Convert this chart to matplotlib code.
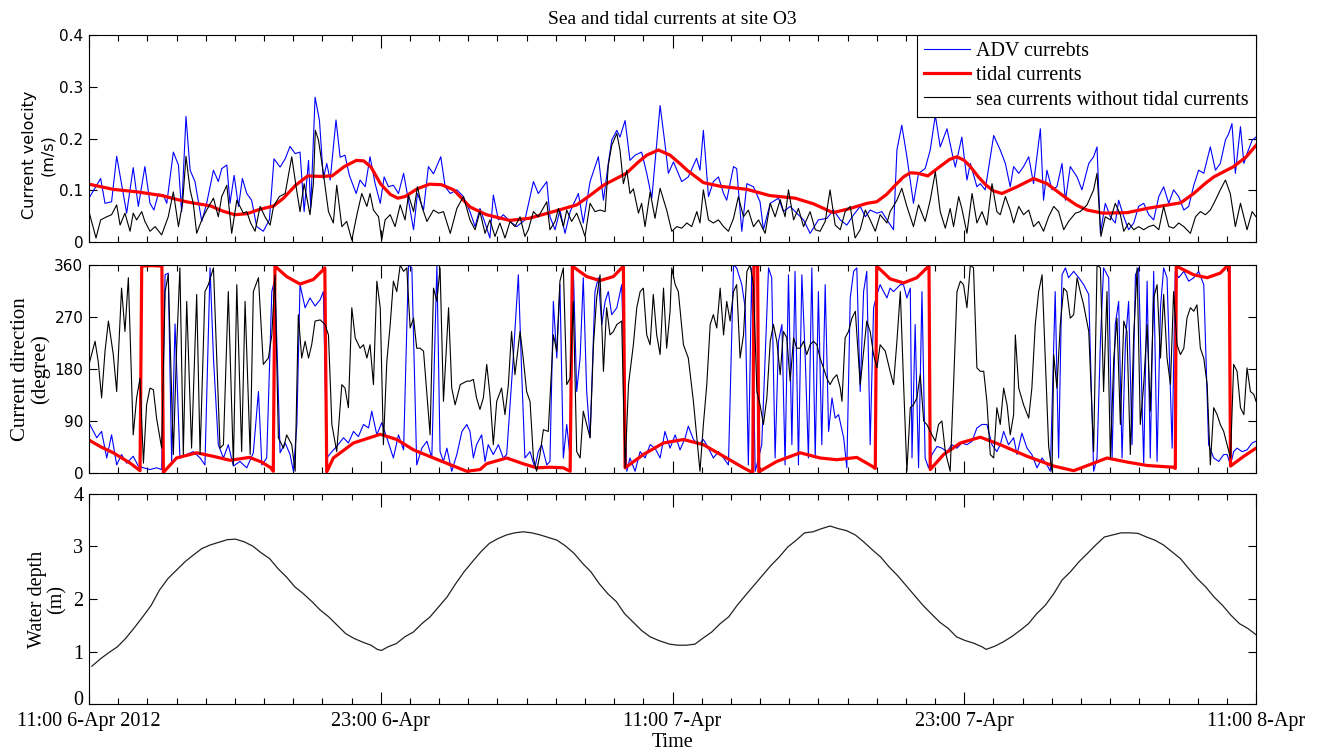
import matplotlib
matplotlib.use("Agg")
import matplotlib.pyplot as plt
from matplotlib.ticker import FixedLocator, MultipleLocator
from matplotlib.transforms import ScaledTranslation

SERIF = "Liberation Serif"
SANS = "DejaVu Sans"

# time axis: hours after 11:00 6-Apr-2012
time_ticks = [0, 12, 24, 36, 48]
time_labels = ["11:00 6-Apr 2012", "23:00 6-Apr", "11:00 7-Apr", "23:00 7-Apr", "11:00 8-Apr"]

# (hour, m/s) ADV measured speed
adv_speed = [
    (0.00, 0.085), (0.48, 0.123), (0.66, 0.075), (0.93, 0.078), (1.14, 0.166), (1.41, 0.094), (1.55, 0.056), (1.82, 0.144), (2.03, 0.069), (2.30, 0.146),
    (2.51, 0.075), (2.67, 0.062), (2.85, 0.093), (3.06, 0.091), (3.20, 0.075), (3.47, 0.174), (3.68, 0.149), (3.81, 0.059), (3.99, 0.243), (4.16, 0.139),
    (4.36, 0.117), (4.64, 0.040), (4.84, 0.075), (5.12, 0.139), (5.32, 0.117), (5.46, 0.142), (5.67, 0.149), (5.80, 0.075), (5.97, 0.129), (6.15, 0.069),
    (6.31, 0.123), (6.49, 0.094), (6.69, 0.081), (6.90, 0.030), (7.17, 0.021), (7.42, 0.043), (7.61, 0.161), (7.86, 0.145), (8.07, 0.161), (8.27, 0.185),
    (8.48, 0.171), (8.68, 0.174), (8.85, 0.059), (9.03, 0.158), (9.12, 0.067), (9.30, 0.280), (9.48, 0.235), (9.64, 0.123), (9.78, 0.152), (9.92, 0.120),
    (10.16, 0.236), (10.33, 0.164), (10.53, 0.168), (10.71, 0.129), (10.99, 0.094), (11.15, 0.120), (11.36, 0.107), (11.56, 0.165), (11.77, 0.113), (11.98, 0.075),
    (12.14, 0.126), (12.32, 0.107), (12.52, 0.110), (12.73, 0.094), (12.94, 0.133), (13.14, 0.081), (13.35, 0.024), (13.51, 0.094), (13.76, 0.062), (13.96, 0.146),
    (14.17, 0.132), (14.47, 0.165), (14.65, 0.107), (14.86, 0.094), (15.13, 0.101), (15.40, 0.088),
    (15.67, 0.059), (15.88, 0.030), (16.08, 0.065), (16.29, 0.037), (16.49, 0.008), (16.63, 0.091), (16.84, 0.043), (17.04, 0.053), (17.32, 0.040), (17.59, 0.030),
    (17.93, 0.043), (18.28, 0.117), (18.48, 0.094), (18.83, 0.117), (18.96, 0.049), (19.17, 0.024), (19.37, 0.062), (19.58, 0.017), (19.79, 0.059), (20.13, 0.094),
    (20.33, 0.037), (20.61, 0.117), (20.95, 0.165), (21.16, 0.081), (21.36, 0.152), (21.50, 0.197), (21.71, 0.216), (21.84, 0.203), (22.05, 0.235), (22.25, 0.158),
    (22.46, 0.168), (22.73, 0.174), (22.94, 0.133), (23.15, 0.085), (23.49, 0.264), (23.69, 0.190), (23.83, 0.133), (24.04, 0.155), (24.38, 0.117), (24.65, 0.126),
    (24.99, 0.162), (25.13, 0.139), (25.27, 0.216), (25.48, 0.088), (25.68, 0.117), (25.89, 0.126), (26.10, 0.094), (26.23, 0.081), (26.51, 0.146), (26.64, 0.142),
    (26.85, 0.021), (27.06, 0.113), (27.33, 0.107), (27.60, 0.078), (27.74, 0.024), (28.02, 0.075), (28.36, 0.085), (28.56, 0.059), (28.84, 0.069), (29.11, 0.056),
    (29.39, 0.043), (29.66, 0.017), (30.00, 0.043), (30.35, 0.046), (30.62, 0.062), (30.90, 0.043), (31.17, 0.033), (31.45, 0.053),
    (31.72, 0.069), (31.93, 0.049), (32.13, 0.062), (32.41, 0.056), (32.61, 0.059), (32.82, 0.043), (33.09, 0.024), (33.23, 0.178), (33.43, 0.226), (33.64, 0.165),
    (33.91, 0.075), (34.12, 0.133), (34.39, 0.142), (34.60, 0.178), (34.81, 0.245), (35.01, 0.184), (35.29, 0.219), (35.49, 0.174), (35.63, 0.145), (35.90, 0.203),
    (36.11, 0.120), (36.25, 0.152), (36.52, 0.107), (36.66, 0.113), (36.86, 0.101), (37.21, 0.206), (37.48, 0.178), (37.69, 0.152), (37.89, 0.107), (38.03, 0.146),
    (38.24, 0.133), (38.44, 0.146), (38.65, 0.165), (38.85, 0.113), (39.13, 0.219), (39.26, 0.081), (39.40, 0.139), (39.61, 0.101), (39.81, 0.107), (40.02, 0.152),
    (40.16, 0.081), (40.36, 0.146), (40.64, 0.126), (40.84, 0.101), (41.12, 0.152), (41.32, 0.165), (41.46, 0.184), (41.60, 0.017), (41.80, 0.075), (42.01, 0.049),
    (42.21, 0.037), (42.35, 0.081), (42.56, 0.049), (42.76, 0.024), (42.97, 0.037), (43.17, 0.069), (43.38, 0.075), (43.59, 0.053), (43.79, 0.043), (44.00, 0.088),
    (44.20, 0.107), (44.41, 0.075), (44.61, 0.101), (44.82, 0.088), (45.03, 0.062), (45.23, 0.069), (45.44, 0.110), (45.64, 0.139), (45.85, 0.133), (46.12, 0.184),
    (46.33, 0.139), (46.53, 0.152), (46.74, 0.197), (46.88, 0.210), (47.01, 0.229), (47.15, 0.133), (47.36, 0.223), (47.50, 0.152), (47.63, 0.171), (47.84, 0.197),
    (48.00, 0.203),
]

# (hour, m/s) harmonic tidal current speed
tide_speed = [
    (0.0, 0.112), (1.0, 0.102), (2.0, 0.097), (3.0, 0.090), (4.0, 0.078), (5.0, 0.070), (5.5, 0.060), (6.0, 0.053), (6.5, 0.055), (7.0, 0.063),
    (7.6, 0.070), (8.0, 0.085), (8.5, 0.110), (9.0, 0.128), (9.5, 0.127), (10.0, 0.128), (10.5, 0.146), (11.0, 0.158), (11.3, 0.157), (11.6, 0.145),
    (12.0, 0.112), (12.4, 0.092), (12.7, 0.085), (13.0, 0.088), (13.5, 0.103), (14.0, 0.112), (14.5, 0.111), (15.0, 0.101), (15.67, 0.068), (16.35, 0.053),
    (17.3, 0.042), (18.1, 0.046), (19.1, 0.059), (20.06, 0.072), (20.6, 0.090), (21.16, 0.110), (22.1, 0.133), (22.6, 0.155), (22.94, 0.168), (23.42, 0.178),
    (23.9, 0.168), (24.3, 0.152), (24.6, 0.139), (25.27, 0.115), (25.96, 0.108), (27.06, 0.102), (28.0, 0.090), (29.04, 0.085), (29.8, 0.074), (30.6, 0.057),
    (31.3, 0.065), (32.0, 0.075), (32.4, 0.078), (32.8, 0.092), (33.1, 0.107), (33.5, 0.126), (33.78, 0.134), (34.1, 0.133), (34.5, 0.128), (35.0, 0.146),
    (35.4, 0.160), (35.7, 0.165), (36.0, 0.158), (36.25, 0.146), (36.6, 0.125), (36.9, 0.110), (37.2, 0.099), (37.55, 0.094), (38.17, 0.107), (38.85, 0.123),
    (39.4, 0.113), (39.8, 0.099), (40.2, 0.085), (40.6, 0.072), (41.05, 0.062), (41.7, 0.056), (42.7, 0.057), (43.5, 0.065), (44.9, 0.076), (45.44, 0.094),
    (45.9, 0.113), (46.26, 0.126), (47.08, 0.146), (47.6, 0.165), (48.0, 0.187),
]

# (hour, m/s) residual (sea) current speed
sea_speed = [
    (0.00, 0.059), (0.29, 0.008), (0.48, 0.043), (0.73, 0.049), (0.93, 0.053), (1.14, 0.072), (1.28, 0.033), (1.48, 0.056), (1.69, 0.021), (1.82, 0.056),
    (1.96, 0.043), (2.17, 0.059), (2.30, 0.040), (2.51, 0.021), (2.72, 0.030), (2.99, 0.014), (3.26, 0.049), (3.47, 0.097), (3.68, 0.030), (3.85, 0.075),
    (3.99, 0.166), (4.16, 0.101), (4.29, 0.075), (4.43, 0.017), (4.64, 0.043), (4.84, 0.062), (5.12, 0.085), (5.32, 0.049), (5.46, 0.088), (5.67, 0.110),
    (5.87, 0.017), (6.08, 0.081), (6.35, 0.056), (6.49, 0.059), (6.65, 0.037), (6.83, 0.021), (7.04, 0.069), (7.24, 0.049), (7.45, 0.033), (7.59, 0.069),
    (7.83, 0.088), (8.07, 0.094), (8.34, 0.165), (8.52, 0.107), (8.68, 0.059), (8.85, 0.113), (9.09, 0.053), (9.23, 0.113), (9.31, 0.216), (9.44, 0.197),
    (9.64, 0.133), (9.85, 0.059), (10.05, 0.037), (10.19, 0.110), (10.40, 0.030), (10.60, 0.040), (10.81, 0.004), (11.02, 0.053), (11.22, 0.094), (11.43, 0.069),
    (11.56, 0.094), (11.70, 0.062), (11.91, 0.049), (12.04, 0.004), (12.18, 0.043), (12.39, 0.053), (12.59, 0.030), (12.80, 0.072), (13.00, 0.043), (13.14, 0.091),
    (13.35, 0.059), (13.51, 0.107), (13.69, 0.069), (13.90, 0.040), (14.17, 0.062), (14.38, 0.056), (14.58, 0.059), (14.86, 0.017), (15.13, 0.065), (15.40, 0.088),
    (15.67, 0.043), (15.88, 0.024), (16.08, 0.059), (16.29, 0.017), (16.49, 0.043), (16.70, 0.011), (16.90, 0.037), (17.11, 0.008), (17.32, 0.040), (17.52, 0.030),
    (17.73, 0.049), (17.93, 0.011), (18.07, 0.024), (18.28, 0.059), (18.48, 0.049), (18.83, 0.078), (18.96, 0.024), (19.17, 0.040), (19.31, 0.065), (19.51, 0.030),
    (19.65, 0.062), (19.85, 0.040), (20.06, 0.056), (20.27, 0.030), (20.40, 0.011), (20.61, 0.075), (20.81, 0.059), (21.02, 0.062), (21.23, 0.059), (21.36, 0.149),
    (21.50, 0.187), (21.71, 0.210), (21.84, 0.178), (21.98, 0.113), (22.12, 0.139), (22.25, 0.094), (22.39, 0.103), (22.60, 0.056), (22.73, 0.075), (22.87, 0.030),
    (23.08, 0.097), (23.28, 0.046), (23.49, 0.104), (23.76, 0.062), (23.97, 0.021), (24.18, 0.030), (24.38, 0.027), (24.59, 0.037), (24.79, 0.030), (25.00, 0.059),
    (25.13, 0.037), (25.27, 0.101), (25.48, 0.043), (25.68, 0.037), (25.89, 0.043), (26.10, 0.030), (26.30, 0.021), (26.51, 0.046), (26.71, 0.088), (26.92, 0.049),
    (27.12, 0.062), (27.33, 0.030), (27.54, 0.043), (27.81, 0.017), (28.02, 0.075), (28.22, 0.049), (28.43, 0.082), (28.63, 0.049), (28.77, 0.101), (28.98, 0.043),
    (29.18, 0.065), (29.39, 0.030), (29.66, 0.059), (29.87, 0.024), (30.07, 0.021), (30.28, 0.040), (30.48, 0.101), (30.69, 0.033), (30.90, 0.024), (31.10, 0.059),
    (31.31, 0.069), (31.51, 0.008),
    (31.72, 0.024), (31.93, 0.062), (32.13, 0.043), (32.34, 0.021), (32.54, 0.053), (32.82, 0.037), (32.95, 0.059), (33.23, 0.081), (33.43, 0.104), (33.64, 0.069),
    (33.91, 0.030), (34.12, 0.072), (34.39, 0.040), (34.60, 0.081), (34.81, 0.136), (35.01, 0.059), (35.22, 0.027), (35.42, 0.065), (35.56, 0.030), (35.77, 0.088),
    (35.90, 0.065), (36.11, 0.017), (36.32, 0.094), (36.52, 0.037), (36.73, 0.059), (36.93, 0.033), (37.14, 0.113), (37.34, 0.059), (37.48, 0.053), (37.69, 0.088),
    (37.89, 0.062), (38.03, 0.037), (38.24, 0.069), (38.44, 0.053), (38.65, 0.062), (38.85, 0.030), (39.06, 0.040), (39.26, 0.021), (39.47, 0.049), (39.68, 0.069),
    (39.88, 0.059), (40.09, 0.024), (40.29, 0.040), (40.57, 0.056), (40.77, 0.059), (41.05, 0.072), (41.32, 0.101), (41.46, 0.133), (41.62, 0.011), (41.80, 0.049),
    (42.01, 0.043), (42.21, 0.075), (42.42, 0.053), (42.56, 0.021), (42.76, 0.037), (42.97, 0.024), (43.17, 0.030), (43.38, 0.024), (43.59, 0.030), (43.79, 0.033),
    (44.00, 0.024), (44.20, 0.069), (44.41, 0.030), (44.61, 0.027), (44.82, 0.037), (45.03, 0.030), (45.30, 0.017), (45.51, 0.049), (45.71, 0.059), (45.92, 0.053),
    (46.12, 0.062), (46.33, 0.081), (46.53, 0.101), (46.74, 0.120), (46.94, 0.094), (47.15, 0.030), (47.36, 0.075), (47.63, 0.024), (47.84, 0.059), (48.00, 0.049),
]

# (hour, degree) ADV measured direction
adv_dir = [
    (0.00, 87), (0.32, 61), (0.52, 72), (0.73, 26), (0.93, 66), (1.14, 14), (1.34, 32), (1.55, 17), (1.82, 29), (2.03, 12),
    (2.24, 9), (2.51, 6), (2.78, 9), (2.99, 6), (3.13, 343), (3.26, 346), (3.40, 20), (3.54, 258), (3.74, 26), (4.02, 32),
    (4.29, 37), (4.57, 26), (4.77, 14), (4.98, 355), (5.12, 199), (5.32, 49), (5.53, 26), (5.73, 49), (5.94, 12), (6.21, 20),
    (6.49, 9), (6.76, 35), (6.97, 141), (7.11, 14), (7.31, 26), (7.52, 314), (7.65, 337), (7.86, 35), (8.07, 52), (8.27, 32),
    (8.41, 3), (8.55, 84), (8.68, 326), (8.89, 286), (9.09, 303), (9.30, 289), (9.51, 300), (9.64, 314), (9.78, 26), (9.99, 37),
    (10.19, 46), (10.47, 61), (10.67, 52), (10.88, 72), (11.08, 63), (11.29, 84), (11.50, 78), (11.63, 107), (11.84, 66), (12.04, 87),
    (12.25, 61), (12.52, 26), (12.73, 66), (12.94, 40), (13.14, 360), (13.28, 355), (13.48, 14), (13.69, 43), (13.90, 55), (14.10, 26),
    (14.31, 360), (14.44, 37), (14.58, 20), (14.72, 43), (14.92, 3), (15.13, 32), (15.34, 72), (15.54, 84),
    (15.67, 72), (15.81, 26), (15.94, 49), (16.15, 66), (16.29, 20), (16.42, 49), (16.63, 32), (16.84, 49), (17.04, 26), (17.18, 32),
    (17.45, 199), (17.66, 343), (17.80, 170), (17.93, 26), (18.14, 37), (18.34, 9), (18.48, 37), (18.62, 49), (18.83, 14), (18.96, 20),
    (19.10, 297), (19.24, 199), (19.37, 326), (19.51, 26), (19.65, 84), (19.79, 26), (19.92, 355), (20.06, 141), (20.20, 199), (20.33, 338),
    (20.47, 141), (20.61, 61), (20.81, 314), (20.95, 338), (21.09, 257), (21.23, 297), (21.36, 314), (21.50, 274), (21.71, 286), (21.91, 326),
    (22.12, 3), (22.25, 26), (22.46, 3), (22.67, 37), (22.87, 26), (23.08, 49), (23.28, 43), (23.49, 26), (23.69, 72), (23.90, 43),
    (24.11, 66), (24.31, 40), (24.52, 61), (24.65, 81), (24.86, 58), (25.07, 49), (25.27, 58), (25.48, 43), (25.68, 26), (25.89, 37),
    (26.10, 26), (26.30, 14), (26.51, 360), (26.64, 355), (26.85, 326), (26.99, 286), (27.12, 14), (27.26, 355), (27.40, 3), (27.54, 26),
    (27.67, 49), (27.81, 199), (27.95, 355), (28.08, 338), (28.22, 26), (28.36, 228), (28.50, 257), (28.63, 14), (28.77, 343), (28.91, 49),
    (29.04, 349), (29.18, 14), (29.32, 343), (29.46, 199), (29.59, 26), (29.73, 355), (29.87, 26), (30.00, 314), (30.14, 49), (30.28, 326),
    (30.42, 72), (30.56, 130), (30.69, 95), (30.83, 101), (31.04, 61), (31.17, 9), (31.31, 303), (31.45, 349), (31.58, 355),
    (31.72, 141), (31.86, 314), (31.99, 349), (32.13, 49), (32.27, 286), (32.41, 309), (32.54, 326), (32.68, 314), (32.82, 303), (32.95, 320),
    (33.09, 314), (33.23, 320), (33.37, 326), (33.50, 326), (33.64, 303), (33.78, 320), (33.85, 26), (33.98, 257), (34.12, 9), (34.26, 314),
    (34.39, 26), (34.53, 9), (34.67, 32), (34.88, 46), (35.08, 43), (35.29, 37), (35.49, 49), (35.70, 43), (35.90, 52), (36.11, 49),
    (36.32, 55), (36.52, 78), (36.73, 84), (36.93, 84), (37.14, 49), (37.34, 37), (37.48, 49), (37.62, 72), (37.82, 49), (38.03, 61),
    (38.17, 32), (38.37, 69), (38.58, 43), (38.78, 32), (38.99, 9), (39.20, 26), (39.40, 14), (39.54, 3), (39.74, 314), (39.88, 26),
    (40.02, 343), (40.16, 355), (40.29, 338), (40.50, 349), (40.71, 338), (40.91, 326), (41.12, 309), (41.32, 3), (41.46, 26), (41.60, 228),
    (41.73, 355), (41.94, 338), (42.08, 26), (42.21, 257), (42.35, 297), (42.49, 26), (42.63, 228), (42.76, 297), (42.90, 49), (43.04, 343),
    (43.17, 355), (43.38, 14), (43.52, 332), (43.65, 26), (43.79, 349), (43.93, 20), (44.07, 286), (44.20, 355), (44.34, 338), (44.55, 43),
    (44.68, 349), (44.82, 338), (45.03, 349), (45.23, 332), (45.44, 338), (45.64, 349), (45.85, 326), (46.05, 49), (46.26, 26), (46.47, 20),
    (46.67, 32), (46.81, 32), (46.95, 14), (47.08, 37), (47.22, 43), (47.43, 37), (47.63, 40), (47.84, 52), (48.00, 55),
]

# (hour, degree) tidal current direction, wraps at 0/360
tide_dir = [
    (0.0, 57), (0.5, 45), (1.0, 35), (1.7, 17), (2.1, 4), (2.17, 358), (2.6, 359), (3.0, 358), (3.06, 1), (3.6, 26),
    (4.43, 35), (5.1, 29), (5.8, 22), (6.6, 27), (7.1, 19), (7.48, 9), (7.58, 3), (7.65, 358), (8.13, 340), (8.68, 327),
    (9.23, 335), (9.64, 352), (9.7, 355), (9.78, 2), (10.05, 26), (10.88, 52), (11.98, 67), (12.66, 58), (13.35, 40), (14.17, 26),
    (15.0, 12), (15.54, 3), (16.09, 6), (16.35, 16), (17.18, 26), (17.86, 16), (18.41, 9), (18.96, 10), (19.51, 9), (19.79, 3),
    (19.88, 358), (20.47, 340), (21.02, 333), (21.57, 340), (21.98, 358), (22.05, 9), (22.8, 32), (23.63, 52), (24.45, 58), (25.27, 49),
    (26.1, 29), (26.92, 9), (27.19, 3), (27.3, 2), (27.35, 359), (27.5, 359), (27.55, 2), (28.29, 20), (29.25, 35), (30.07, 26),
    (30.76, 23), (31.58, 27), (32.2, 12), (32.34, 8), (32.4, 358), (32.95, 336), (33.5, 329), (34.05, 338), (34.46, 355), (34.55, 358),
    (34.6, 6), (35.15, 32), (35.84, 52), (36.66, 62), (37.48, 49), (38.58, 29), (39.68, 12), (40.5, 4), (41.32, 17), (41.87, 26),
    (42.69, 19), (43.52, 13), (44.61, 10), (44.68, 8), (44.72, 358), (45.44, 343), (45.99, 338), (46.53, 346), (46.81, 358), (46.9, 359),
    (46.95, 12), (47.5, 29), (48.0, 43),
]

# (hour, degree) residual (sea) current direction
sea_dir = [
    (0.00, 188), (0.25, 228), (0.38, 193), (0.52, 130), (0.66, 211), (0.80, 263), (1.00, 205), (1.14, 141), (1.34, 320), (1.48, 245),
    (1.62, 338), (1.82, 66), (1.96, 130), (2.10, 164), (2.24, 17), (2.37, 118), (2.51, 147), (2.65, 144), (2.78, 95), (2.99, 43),
    (3.13, 314), (3.26, 343), (3.47, 32), (3.61, 222), (3.74, 355), (3.88, 32), (4.02, 297), (4.22, 43), (4.43, 309), (4.57, 32),
    (4.77, 314), (4.91, 326), (5.12, 355), (5.39, 43), (5.53, 49), (5.73, 314), (5.94, 14), (6.08, 326), (6.28, 37), (6.42, 297),
    (6.63, 32), (6.76, 314), (6.97, 338), (7.17, 188), (7.38, 199), (7.52, 239), (7.65, 343), (7.79, 61), (8.00, 43), (8.13, 66),
    (8.34, 49), (8.48, 3), (8.61, 274), (8.75, 199), (8.89, 228), (9.03, 199), (9.16, 222), (9.30, 263), (9.51, 265), (9.71, 257),
    (9.85, 239), (9.99, 84), (10.19, 37), (10.40, 153), (10.53, 147), (10.67, 113), (10.81, 286), (10.95, 234), (11.15, 216), (11.29, 222),
    (11.43, 199), (11.56, 222), (11.70, 153), (11.84, 332), (11.98, 286), (12.11, 49), (12.25, 193), (12.39, 257), (12.52, 332), (12.66, 314),
    (12.80, 360), (12.94, 349), (13.07, 355), (13.21, 251), (13.35, 268), (13.48, 216), (13.62, 216), (13.76, 211), (13.90, 136), (14.03, 66),
    (14.17, 320), (14.31, 297), (14.44, 355), (14.58, 124), (14.79, 286), (14.92, 147), (15.06, 118), (15.27, 153), (15.54, 159),
    (15.67, 159), (15.81, 162), (15.94, 130), (16.08, 110), (16.22, 130), (16.36, 188), (16.49, 136), (16.63, 49), (16.77, 124), (16.97, 147),
    (17.11, 101), (17.25, 153), (17.38, 245), (17.52, 170), (17.73, 245), (17.86, 199), (18.00, 141), (18.14, 124), (18.28, 26), (18.41, 3),
    (18.55, 32), (18.69, 75), (18.89, 72), (19.10, 239), (19.24, 211), (19.37, 332), (19.51, 355), (19.65, 153), (19.79, 164), (19.92, 297),
    (20.06, 37), (20.20, 26), (20.33, 107), (20.47, 84), (20.61, 61), (20.75, 222), (20.88, 303), (21.02, 343), (21.16, 176), (21.29, 286),
    (21.43, 239), (21.57, 245), (21.71, 257), (21.91, 263), (22.05, 9), (22.19, 153), (22.39, 222), (22.53, 286), (22.67, 314), (22.80, 320),
    (22.94, 239), (23.08, 222), (23.21, 309), (23.35, 239), (23.49, 205), (23.63, 320), (23.76, 216), (23.90, 280), (23.97, 355), (24.11, 326),
    (24.24, 314), (24.45, 222), (24.65, 199), (24.86, 124), (25.00, 61), (25.13, 3), (25.27, 84), (25.41, 153), (25.55, 257), (25.68, 274),
    (25.82, 251), (25.96, 320), (26.10, 239), (26.23, 297), (26.37, 263), (26.51, 314), (26.64, 326), (26.78, 199), (26.92, 239), (27.06, 349),
    (27.19, 360), (27.33, 326), (27.47, 141), (27.60, 118), (27.74, 84), (27.88, 130), (28.02, 228), (28.15, 257), (28.29, 228), (28.43, 170),
    (28.56, 245), (28.70, 234), (28.84, 159), (28.98, 234), (29.11, 216), (29.25, 216), (29.39, 228), (29.52, 205), (29.66, 222), (29.80, 228),
    (29.94, 222), (30.07, 199), (30.21, 182), (30.35, 164), (30.48, 153), (30.62, 164), (30.76, 170), (30.90, 147), (30.97, 124), (31.10, 234),
    (31.24, 245), (31.38, 268), (31.52, 280),
    (31.72, 153), (31.86, 211), (31.99, 263), (32.13, 245), (32.27, 205), (32.41, 182), (32.54, 222), (32.75, 211), (32.95, 176), (33.09, 153),
    (33.23, 228), (33.37, 314), (33.50, 159), (33.64, 3), (33.78, 113), (33.91, 118), (34.05, 130), (34.19, 170), (34.33, 90), (34.46, 84),
    (34.60, 72), (34.81, 55), (34.94, 84), (35.08, 90), (35.22, 37), (35.42, 3), (35.56, 153), (35.70, 314), (35.84, 332), (35.97, 326),
    (36.11, 286), (36.25, 360), (36.38, 355), (36.52, 182), (36.66, 176), (36.80, 176), (36.93, 124), (37.07, 32), (37.21, 26), (37.34, 113),
    (37.48, 84), (37.62, 147), (37.76, 118), (37.89, 66), (38.03, 101), (38.10, 239), (38.24, 147), (38.44, 118), (38.65, 95), (38.78, 147),
    (38.92, 257), (39.06, 314), (39.20, 343), (39.33, 199), (39.47, 46), (39.61, 3), (39.68, 205), (39.81, 147), (39.95, 257), (40.09, 320),
    (40.22, 314), (40.36, 268), (40.50, 274), (40.64, 338), (40.77, 314), (40.91, 291), (41.12, 245), (41.32, 37), (41.46, 360), (41.60, 355),
    (41.73, 141), (41.87, 314), (42.01, 26), (42.15, 199), (42.28, 268), (42.42, 84), (42.56, 263), (42.69, 245), (42.83, 32), (42.97, 239),
    (43.11, 355), (43.24, 84), (43.38, 153), (43.52, 257), (43.65, 107), (43.79, 303), (43.93, 326), (44.07, 199), (44.20, 309), (44.34, 199),
    (44.48, 153), (44.61, 314), (44.75, 222), (44.89, 205), (45.03, 216), (45.16, 268), (45.30, 286), (45.44, 280), (45.57, 291), (45.71, 216),
    (45.85, 199), (45.99, 153), (46.12, 14), (46.26, 113), (46.40, 101), (46.53, 84), (46.67, 72), (46.81, 49), (46.95, 26), (47.08, 188),
    (47.22, 176), (47.36, 113), (47.50, 101), (47.63, 182), (47.77, 141), (47.91, 136), (48.00, 124),
]

# (hour, m) water depth
water_depth = [
    (0.12, 0.72), (0.47, 0.86), (0.82, 0.98), (1.17, 1.09), (1.51, 1.25), (1.86, 1.45), (2.21, 1.66), (2.56, 1.88), (2.90, 2.17), (3.25, 2.39),
    (3.60, 2.55), (3.95, 2.71), (4.30, 2.84), (4.64, 2.96), (4.99, 3.03), (5.34, 3.08), (5.69, 3.13), (6.03, 3.14), (6.38, 3.09), (6.73, 3.01),
    (7.08, 2.88), (7.43, 2.77), (7.77, 2.58), (8.12, 2.42), (8.47, 2.23), (8.82, 2.10), (9.17, 1.95), (9.51, 1.79), (9.86, 1.66), (10.21, 1.50),
    (10.56, 1.34), (10.90, 1.25), (11.25, 1.18), (11.60, 1.12), (11.86, 1.04), (12.03, 1.02), (12.30, 1.09), (12.64, 1.15), (12.99, 1.28), (13.34, 1.37),
    (13.69, 1.53), (14.03, 1.66), (14.38, 1.85), (14.73, 2.04), (15.08, 2.29), (15.43, 2.52), (15.77, 2.71), (16.12, 2.90), (16.47, 3.06), (16.82, 3.15),
    (17.17, 3.22), (17.51, 3.26), (17.86, 3.28), (18.21, 3.26), (18.56, 3.22), (18.90, 3.17), (19.25, 3.12), (19.60, 3.01), (19.95, 2.87), (20.30, 2.68),
    (20.64, 2.52), (20.99, 2.29), (21.34, 2.10), (21.69, 1.95), (22.03, 1.72), (22.38, 1.56), (22.73, 1.40), (23.08, 1.28), (23.43, 1.21), (23.88, 1.14),
    (24.23, 1.12), (24.57, 1.12), (24.92, 1.14), (25.27, 1.26), (25.61, 1.37), (25.96, 1.53), (26.31, 1.66), (26.66, 1.88), (27.00, 2.07), (27.35, 2.26),
    (27.70, 2.45), (28.05, 2.64), (28.39, 2.80), (28.74, 2.99), (29.09, 3.12), (29.43, 3.26), (29.78, 3.28), (30.13, 3.34), (30.48, 3.39), (30.82, 3.34),
    (31.17, 3.30), (31.52, 3.22), (31.86, 3.09), (32.21, 2.94), (32.56, 2.80), (32.91, 2.61), (33.25, 2.45), (33.60, 2.26), (33.95, 2.07), (34.30, 1.88),
    (34.64, 1.72), (34.99, 1.56), (35.34, 1.44), (35.68, 1.28), (36.03, 1.21), (36.38, 1.16), (36.73, 1.09), (36.90, 1.04), (37.25, 1.10), (37.59, 1.18),
    (37.94, 1.28), (38.29, 1.40), (38.64, 1.53), (38.98, 1.72), (39.33, 1.88), (39.68, 2.10), (40.02, 2.36), (40.37, 2.52), (40.72, 2.71), (41.07, 2.87),
    (41.41, 3.03), (41.76, 3.18), (42.11, 3.22), (42.45, 3.26), (42.80, 3.26), (43.15, 3.25), (43.50, 3.18), (43.84, 3.12), (44.19, 3.03), (44.54, 2.90),
    (44.89, 2.77), (45.23, 2.58), (45.58, 2.39), (45.93, 2.23), (46.27, 2.04), (46.62, 1.88), (46.97, 1.69), (47.32, 1.53), (47.66, 1.44), (48.00, 1.32),
]


def unzip(pairs):
    t, v = zip(*pairs)
    return list(t), list(v)


def style_axis(ax, show_xlabels=False):
    ax.set_xlim(0, 48)
    ax.xaxis.set_major_locator(FixedLocator(time_ticks))
    ax.xaxis.set_minor_locator(MultipleLocator(1.2))
    ax.tick_params(which='both', direction='in', top=True, right=True, width=0.8)
    ax.tick_params(axis='x', which='major', length=9)
    ax.tick_params(axis='x', which='minor', length=4.5)
    ax.tick_params(axis='y', which='major', length=5.5, pad=4)
    for s in ax.spines.values():
        s.set_linewidth(0.8)
    if show_xlabels:
        ax.set_xticklabels(time_labels, fontfamily=SERIF, fontsize=14.5)
        ax.tick_params(axis='x', which='major', pad=6)
    else:
        ax.tick_params(axis='x', labelbottom=False)


fig = plt.figure(figsize=(13.22, 7.52), dpi=100)
ax1 = fig.add_axes([0.0673, 0.678, 0.8828, 0.2753])
ax2 = fig.add_axes([0.0673, 0.371, 0.8828, 0.2766])
ax3 = fig.add_axes([0.0673, 0.0638, 0.8828, 0.2793])

# --- velocity
t, v = unzip(adv_speed)
l1, = ax1.plot(t, v, color='#0000ff', lw=0.8, label='ADV currebts')
t, v = unzip(tide_speed)
l2, = ax1.plot(t, v, color='#ff0000', lw=2.3, label='tidal currents')
t, v = unzip(sea_speed)
l3, = ax1.plot(t, v, color='black', lw=0.8, label='sea currents without tidal currents')
style_axis(ax1)
ax1.set_ylim(0, 0.4)
ax1.set_yticks([0, 0.1, 0.2, 0.3, 0.4])
ax1.set_yticklabels(['0', '0.1', '0.2', '0.3', '0.4'], fontfamily=SANS, fontsize=11)
ax1.set_ylabel('Current velocity\n(m/s)', fontfamily=SANS, fontsize=11.5, linespacing=1.3)
ax1.yaxis.set_label_coords(-0.029, 0.42)
ax1.set_title('Sea and tidal currents at site O3', fontfamily=SERIF, fontsize=14, pad=8)
leg = ax1.legend(handles=[l1, l2, l3], loc='upper right', borderaxespad=0, fancybox=False,
                 edgecolor='black', framealpha=1, prop={'family': SERIF, 'size': 14.5},
                 handlelength=2.3, handletextpad=0.3, labelspacing=0.25, borderpad=0.35)
leg.get_frame().set_linewidth(0.8)

# --- direction
t, v = unzip(adv_dir)
ax2.plot(t, v, color='#0000ff', lw=0.8)
t, v = unzip(tide_dir)
ax2.plot(t, v, color='#ff0000', lw=2.3)
t, v = unzip(sea_dir)
ax2.plot(t, v, color='black', lw=0.8)
style_axis(ax2)
ax2.set_ylim(0, 360)
ax2.set_yticks([0, 90, 180, 270, 360])
ax2.set_yticklabels(['0', '90', '180', '270', '360'], fontfamily=SANS, fontsize=11)
ax2.set_ylabel('Current direction\n(degree)', fontfamily=SERIF, fontsize=15, linespacing=1.05)
ax2.yaxis.set_label_coords(-0.033, 0.5)

# --- water depth
t, v = unzip(water_depth)
ax3.plot(t, v, color='#222222', lw=0.9)
style_axis(ax3, show_xlabels=True)
ax3.set_ylim(0, 4)
ax3.set_yticks([0, 1, 2, 3, 4])
ax3.set_yticklabels(['0', '1', '2', '3', '4'], fontfamily=SERIF, fontsize=14.5)
# lift the "0" a little so it sits just above the first date label
zero_lab = ax3.get_yticklabels()[0]
zero_lab.set_transform(zero_lab.get_transform() + ScaledTranslation(0, 4 / 72, fig.dpi_scale_trans))
ax3.set_ylabel('Water depth\n(m)', fontfamily=SERIF, fontsize=14.5, linespacing=1.05)
ax3.yaxis.set_label_coords(-0.019, 0.5)
ax3.set_xlabel('Time', fontfamily=SERIF, fontsize=14.5, labelpad=1)

fig.savefig('out.png', dpi=100)
